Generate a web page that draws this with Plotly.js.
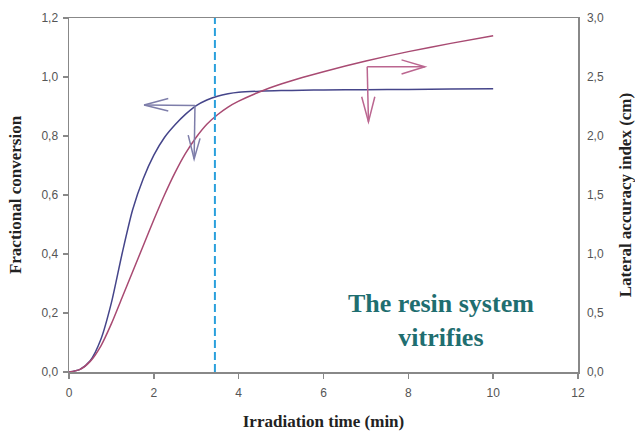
<!DOCTYPE html>
<html>
<head>
<meta charset="utf-8">
<script src="https://cdn.plot.ly/plotly-3.0.1.min.js"></script>
<style>html,body{margin:0;padding:0;background:#fff;}#chart{width:635px;height:431px;}</style>
</head>
<body>
<div id="chart"></div>
<script>
// Irradiation time (min)
var time = [0, 0.25, 0.5, 0.75, 1.0, 1.25, 1.5, 1.75, 2.0, 2.25, 2.5, 2.75, 3.0, 3.25, 3.5, 3.75, 4.0, 4.5, 5.0, 5.5, 6.0, 7.0, 8.0, 9.0, 10.0];
// Fractional conversion (left axis)
var conversion = [0, 0.008, 0.038, 0.11, 0.235, 0.40, 0.55, 0.655, 0.735, 0.795, 0.838, 0.874, 0.903, 0.922, 0.935, 0.943, 0.948, 0.952, 0.954, 0.955, 0.956, 0.957, 0.958, 0.959, 0.96];
// Lateral accuracy index (cm) (right axis)
var lateralIndex = [0, 0.02, 0.09, 0.22, 0.41, 0.63, 0.85, 1.07, 1.29, 1.50, 1.69, 1.855, 1.99, 2.10, 2.18, 2.245, 2.295, 2.375, 2.44, 2.495, 2.545, 2.635, 2.715, 2.785, 2.85];

var xTicks = [0, 2, 4, 6, 8, 10, 12];
var yLeftTicks = [0, 0.2, 0.4, 0.6, 0.8, 1.0, 1.2];
var yLeftLabels = ['0,0', '0,2', '0,4', '0,6', '0,8', '1,0', '1,2'];
var yRightTicks = [0, 0.5, 1.0, 1.5, 2.0, 2.5, 3.0];
var yRightLabels = ['0,0', '0,5', '1,0', '1,5', '2,0', '2,5', '3,0'];

var vitrificationTime = 3.44;

// Annotation arrows (time, left-axis value)
var blueArrowH = [[2.97, 0.903], [1.77, 0.905]];
var blueArrowHHead = [[2.34, 0.927], [1.77, 0.905], [2.34, 0.885]];
var blueArrowV = [[2.97, 0.903], [2.95, 0.722]];
var blueArrowVHead = [[2.81, 0.803], [2.95, 0.722], [3.09, 0.792]];
var redArrowH = [[7.03, 1.035], [8.39, 1.035]];
var redArrowHHead = [[7.84, 1.058], [8.39, 1.035], [7.84, 1.010]];
var redArrowV = [[7.03, 1.035], [7.06, 0.848]];
var redArrowVHead = [[6.90, 0.933], [7.06, 0.848], [7.21, 0.933]];

function pathOf(pts) {
  return pts.map(function (p, i) { return (i ? 'L' : 'M') + p[0] + ',' + p[1]; }).join(' ');
}
function arrowShape(pts, color) {
  return {type: 'path', xref: 'x', yref: 'y', path: pathOf(pts), line: {color: color, width: 1.5}};
}

var blueColor = '#45458a';
var redColor = '#a84a72';
var blueArrowColor = '#7e7eaa';
var redArrowColor = '#bb6690';

var traces = [
  {x: time, y: conversion, type: 'scatter', mode: 'lines', line: {color: blueColor, width: 1.5, shape: 'spline', smoothing: 0.7}, yaxis: 'y', hoverinfo: 'skip'},
  {x: time, y: lateralIndex, type: 'scatter', mode: 'lines', line: {color: redColor, width: 1.5, shape: 'spline', smoothing: 0.7}, yaxis: 'y2', hoverinfo: 'skip'}
];

var tickFont = {family: 'Liberation Sans, Arial, sans-serif', size: 12, color: '#555'};
var titleFont = {family: 'Liberation Serif, Times New Roman, serif', size: 17, color: '#222', weight: 'bold'};

var layout = {
  width: 635, height: 431,
  margin: {l: 69, r: 57, t: 18, b: 59},
  paper_bgcolor: '#fff', plot_bgcolor: '#fff',
  showlegend: false,
  xaxis: {
    range: [0, 12], tickvals: xTicks, ticktext: xTicks.map(String),
    ticks: 'outside', ticklen: 5, tickcolor: '#888', tickwidth: 1.5,
    showline: true, linecolor: '#888', linewidth: 1.5, mirror: true,
    showgrid: false, zeroline: false, tickfont: tickFont, ticklabelstandoff: 4,
    title: {text: 'Irradiation time (min)', font: titleFont, standoff: 20}
  },
  yaxis: {
    range: [0, 1.2], tickvals: yLeftTicks, ticktext: yLeftLabels,
    ticks: 'outside', ticklen: 5, tickcolor: '#888', tickwidth: 1.5,
    showline: true, linecolor: '#888', linewidth: 1.5,
    showgrid: false, zeroline: false, tickfont: tickFont, ticklabelstandoff: 2,
    title: {text: 'Fractional conversion', font: titleFont, standoff: 15}
  },
  yaxis2: {
    overlaying: 'y', side: 'right',
    range: [0, 3], tickvals: yRightTicks, ticktext: yRightLabels,
    ticks: '', showline: true, linecolor: '#888', linewidth: 1.5,
    showgrid: false, zeroline: false, tickfont: tickFont, ticklabelstandoff: 5,
    title: {text: 'Lateral accuracy index (cm)', font: titleFont, standoff: 18}
  },
  shapes: [
    {type: 'line', xref: 'x', yref: 'paper', x0: vitrificationTime, x1: vitrificationTime, y0: 0, y1: 1,
     line: {color: '#2aa0dc', width: 2, dash: '8px,4px'}},
    arrowShape(blueArrowH, blueArrowColor),
    arrowShape(blueArrowHHead, blueArrowColor),
    arrowShape(blueArrowV, blueArrowColor),
    arrowShape(blueArrowVHead, blueArrowColor),
    arrowShape(redArrowH, redArrowColor),
    arrowShape(redArrowHHead, redArrowColor),
    arrowShape(redArrowV, redArrowColor),
    arrowShape(redArrowVHead, redArrowColor)
  ],
  annotations: [
    {text: '<b>The resin system<br>vitrifies</b>', xref: 'x', yref: 'y', x: 8.78, y: 0.176,
     showarrow: false, align: 'center',
     font: {family: 'Liberation Serif, Times New Roman, serif', size: 26, color: '#1f6e70'}}
  ]
};

Plotly.newPlot('chart', traces, layout, {staticPlot: true, displayModeBar: false});
</script>
</body>
</html>
